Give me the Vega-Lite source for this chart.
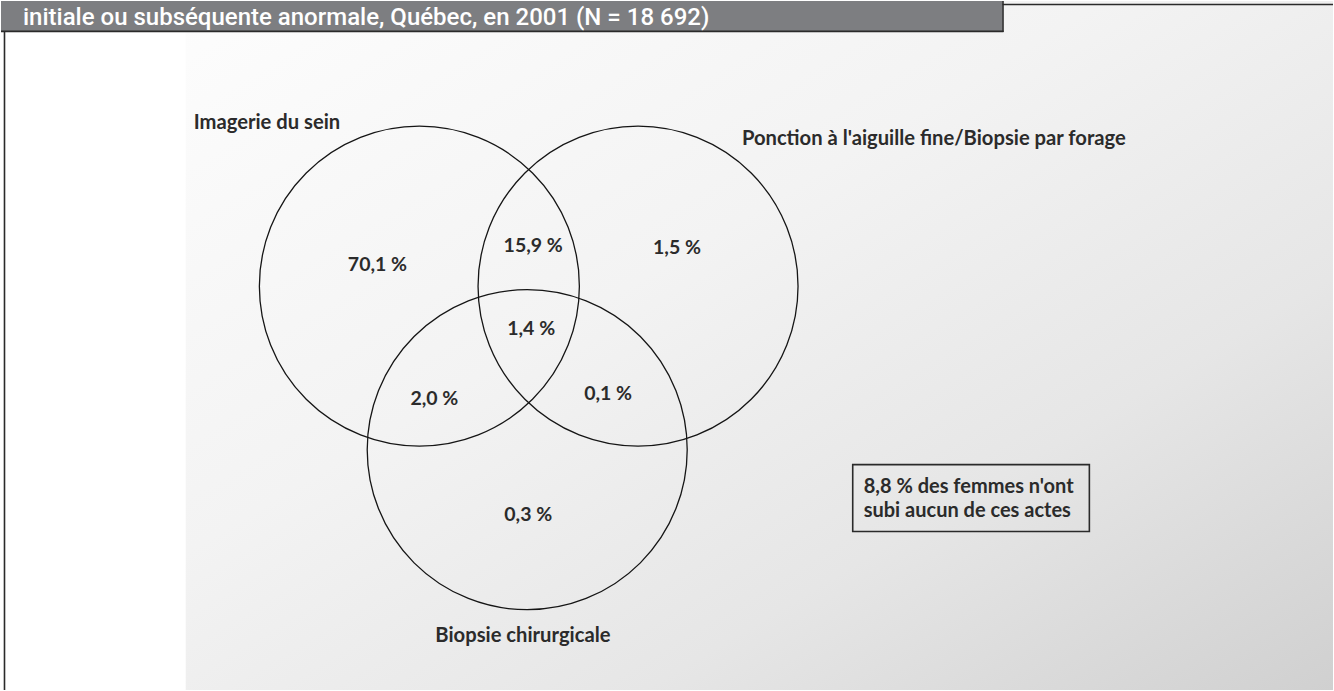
{
  "$schema": "https://vega.github.io/schema/vega-lite/v6.json",
  "width": 1334,
  "height": 691,
  "autosize": {"type": "fit", "contains": "padding"},
  "padding": 0,
  "background": "#ffffff",
  "config": {"view": {"stroke": null}},
  "datasets": {
    "panel": [{"x": 185, "x2": 1334, "y": 0, "y2": 691}],
    "bar": [{"x": 0, "x2": 1003, "y": 0, "y2": 30}],
    "hlines": [{"x": 0, "x2": 1004, "y": 30.5}, {"x": 1003, "x2": 1334, "y": 3.5}],
    "vlines": [{"x": 3.5, "y": 30, "y2": 691}, {"x": 1003.5, "y": 0, "y2": 31}],
    "header": [{"x": 22, "y": 24, "t": "initiale ou subséquente anormale, Québec, en 2001 (N = 18 692)"}],
    "sets": [
      {"set": "Imagerie du sein", "cx": 419, "cy": 286},
      {"set": "Ponction à l'aiguille fine/Biopsie par forage", "cx": 638, "cy": 286},
      {"set": "Biopsie chirurgicale", "cx": 527, "cy": 450}
    ],
    "setLabels": [
      {"t": "Imagerie du sein", "x": 193, "y": 128},
      {"t": "Ponction à l'aiguille fine/Biopsie par forage", "x": 742, "y": 144},
      {"t": "Biopsie chirurgicale", "x": 435, "y": 643}
    ],
    "regions": [
      {"region": "Imagerie seulement", "t": "70,1 %", "x": 377, "y": 271},
      {"region": "Imagerie + Ponction", "t": "15,9 %", "x": 533, "y": 252},
      {"region": "Ponction seulement", "t": "1,5 %", "x": 677, "y": 254},
      {"region": "Les trois", "t": "1,4 %", "x": 531, "y": 335},
      {"region": "Imagerie + Biopsie", "t": "2,0 %", "x": 434, "y": 405},
      {"region": "Ponction + Biopsie", "t": "0,1 %", "x": 608, "y": 400},
      {"region": "Biopsie seulement", "t": "0,3 %", "x": 528, "y": 522}
    ],
    "box": [{"x": 853, "x2": 1090, "y": 465, "y2": 532}],
    "boxText": [
      {"t": "8,8 % des femmes n'ont", "x": 864, "y": 493},
      {"t": "subi aucun de ces actes", "x": 864, "y": 517}
    ]
  },
  "layer": [
    {
      "data": {"name": "panel"},
      "mark": {"type": "rect", "fill": {"gradient": "linear", "x1": 0, "y1": 0, "x2": 1, "y2": 1, "stops": [
        {"offset": 0, "color": "#fdfdfd"},
        {"offset": 0.4, "color": "#f3f3f3"},
        {"offset": 0.7, "color": "#e6e6e6"},
        {"offset": 1, "color": "#d0d0d0"}]}},
      "encoding": {
        "x": {"field": "x", "type": "quantitative", "scale": {"domain": [0, 1334], "nice": false, "zero": false}, "axis": null},
        "x2": {"field": "x2"},
        "y": {"field": "y", "type": "quantitative", "scale": {"domain": [0, 691], "nice": false, "zero": false, "reverse": true}, "axis": null},
        "y2": {"field": "y2"}
      }
    },
    {
      "data": {"name": "bar"},
      "mark": {"type": "rect", "fill": "#7d7e81"},
      "encoding": {
        "x": {"field": "x", "type": "quantitative", "axis": null},
        "x2": {"field": "x2"},
        "y": {"field": "y", "type": "quantitative", "axis": null},
        "y2": {"field": "y2"}
      }
    },
    {
      "data": {"name": "hlines"},
      "mark": {"type": "rule", "stroke": "#2a2a2a", "strokeWidth": 1.6},
      "encoding": {
        "x": {"field": "x", "type": "quantitative", "axis": null},
        "x2": {"field": "x2"},
        "y": {"field": "y", "type": "quantitative", "axis": null}
      }
    },
    {
      "data": {"name": "vlines"},
      "mark": {"type": "rule", "stroke": "#2a2a2a", "strokeWidth": 1.6},
      "encoding": {
        "x": {"field": "x", "type": "quantitative", "axis": null},
        "y": {"field": "y", "type": "quantitative", "axis": null},
        "y2": {"field": "y2"}
      }
    },
    {
      "data": {"name": "header"},
      "mark": {"type": "text", "align": "left", "baseline": "alphabetic", "font": "Roboto", "fontWeight": 500, "fontSize": 24, "fill": "#ffffff"},
      "encoding": {
        "x": {"field": "x", "type": "quantitative", "axis": null},
        "y": {"field": "y", "type": "quantitative", "axis": null},
        "text": {"field": "t"}
      }
    },
    {
      "data": {"name": "sets"},
      "mark": {"type": "point", "shape": "circle", "size": 102400, "filled": false, "fill": "transparent", "stroke": "#151515", "strokeWidth": 1.3, "opacity": 1},
      "encoding": {
        "x": {"field": "cx", "type": "quantitative", "axis": null},
        "y": {"field": "cy", "type": "quantitative", "axis": null}
      }
    },
    {
      "data": {"name": "setLabels"},
      "mark": {"type": "text", "align": "left", "baseline": "alphabetic", "font": "Lato", "fontWeight": "bold", "fontSize": 20.2, "fill": "#2b2b2b"},
      "encoding": {
        "x": {"field": "x", "type": "quantitative", "axis": null},
        "y": {"field": "y", "type": "quantitative", "axis": null},
        "text": {"field": "t"}
      }
    },
    {
      "data": {"name": "regions"},
      "mark": {"type": "text", "align": "center", "baseline": "alphabetic", "font": "Lato", "fontWeight": "bold", "fontSize": 19.5, "fill": "#2b2b2b"},
      "encoding": {
        "x": {"field": "x", "type": "quantitative", "axis": null},
        "y": {"field": "y", "type": "quantitative", "axis": null},
        "text": {"field": "t"}
      }
    },
    {
      "data": {"name": "box"},
      "mark": {"type": "rect", "fill": "transparent", "stroke": "#2a2a2a", "strokeWidth": 1.6},
      "encoding": {
        "x": {"field": "x", "type": "quantitative", "axis": null},
        "x2": {"field": "x2"},
        "y": {"field": "y", "type": "quantitative", "axis": null},
        "y2": {"field": "y2"}
      }
    },
    {
      "data": {"name": "boxText"},
      "mark": {"type": "text", "align": "left", "baseline": "alphabetic", "font": "Lato", "fontWeight": "bold", "fontSize": 20, "fill": "#2b2b2b"},
      "encoding": {
        "x": {"field": "x", "type": "quantitative", "axis": null},
        "y": {"field": "y", "type": "quantitative", "axis": null},
        "text": {"field": "t"}
      }
    }
  ]
}
